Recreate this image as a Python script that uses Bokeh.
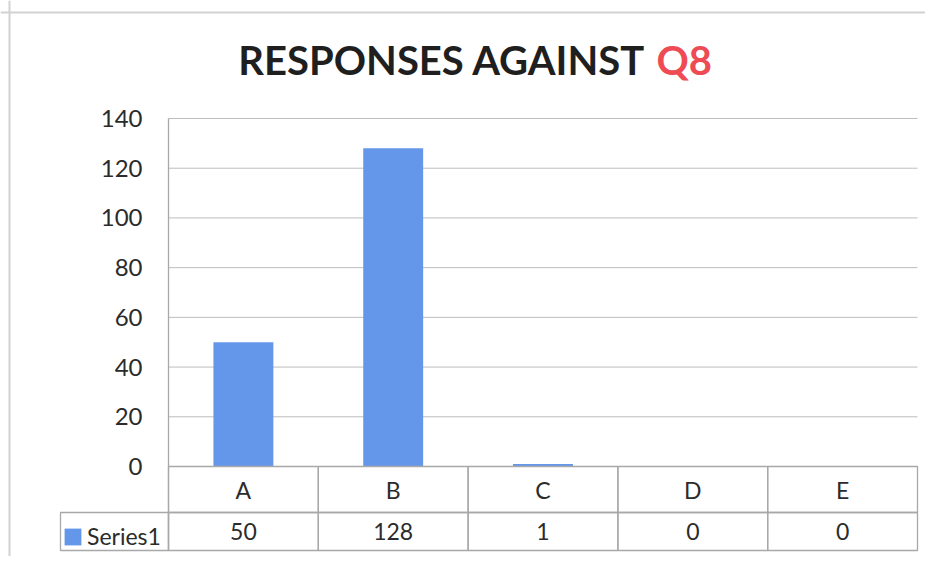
from bokeh.plotting import figure
from bokeh.models import Range1d, Label, ColumnDataSource, Span, Legend, LegendItem
from bokeh.embed import file_html
from bokeh.resources import INLINE
from bokeh.core.properties import value

# ---- data ----
categories = ["A", "B", "C", "D", "E"]
series_name = "Series1"
values = [50, 128, 1, 0, 0]
y_ticks = [0, 20, 40, 60, 80, 100, 120, 140]
title_main = "RESPONSES AGAINST"
title_q = "Q8"

BAR = "#6497E9"
GRID = "#bdbdbd"
LINE = "#a8a8a8"
TXT = "#2b2b2b"
FONT = "Lato"

n = len(categories)
xpos = [i + 0.5 for i in range(n)]

# scale: one category = 149.8 px, 20 units = 49.7 px
PX_X = 149.8
PX_Y = 348 / 140.0
W, H = 925, 556
ORG_X, ORG_Y = 0, 0   # page position of the figure's top-left corner

# frame = whole figure
x0 = (ORG_X - 168) / PX_X
x1 = x0 + W / PX_X
y1 = (466 - ORG_Y) / PX_Y
y0 = y1 - H / PX_Y

p = figure(width=W, height=H, output_backend="svg", toolbar_location=None,
           x_range=Range1d(x0, x1), y_range=Range1d(y0, y1),
           min_border=0, x_axis_location=None, y_axis_location=None)
p.outline_line_color = None
p.xgrid.visible = False
p.ygrid.visible = False

# horizontal gridlines across the plot area
p.segment(x0=[0] * len(y_ticks), x1=[n] * len(y_ticks), y0=y_ticks, y1=y_ticks,
          line_color=GRID, line_width=1)

# bars
src = ColumnDataSource(dict(x=xpos, top=values))
bars = p.vbar(x="x", top="top", bottom=0, width=0.4, source=src, fill_color=BAR, line_color=None)

# y tick labels
p.text(x=[-26 / PX_X] * len(y_ticks), y=y_ticks, text=[str(t) for t in y_ticks],
       text_align="right", text_baseline="middle", text_font=value(FONT),
       text_font_size="24px", text_color=TXT)

# data table below the plot area
hdr_h = 46 / PX_Y
row_h = 38 / PX_Y
leg_w = 108 / PX_X
p.quad(left=list(range(n)), right=[i + 1 for i in range(n)], bottom=-hdr_h, top=0,
       fill_color=None, line_color=LINE, line_width=1.3)
p.quad(left=[-leg_w] + list(range(n)), right=[0] + [i + 1 for i in range(n)],
       bottom=-hdr_h - row_h, top=-hdr_h, fill_color=None, line_color=LINE, line_width=1.3)
# value axis line (continues the table's column line)
p.segment(x0=[0], x1=[0], y0=[-hdr_h - row_h], y1=[max(y_ticks)], line_color=LINE, line_width=1.3)

p.text(x=xpos, y=[-hdr_h / 2] * n, text=categories, text_align="center", text_baseline="middle",
       text_font=value(FONT), text_font_size="23px", text_color=TXT)
p.text(x=xpos, y=[-hdr_h - row_h / 2] * n, text=[str(v) for v in values], text_align="center",
       text_baseline="middle", text_font=value(FONT), text_font_size="23px", text_color=TXT)

legend = Legend(items=[LegendItem(label=series_name, renderers=[bars])],
                location=(62 - ORG_X, 556 - 550), orientation="vertical",
                glyph_width=21, glyph_height=21, label_standoff=4, padding=0, margin=0,
                spacing=0, border_line_color=None, background_fill_alpha=0,
                label_text_font=FONT, label_text_font_size="23px", label_text_color=TXT)
p.add_layout(legend)

# title
ty = (466 - 59) / PX_Y
p.add_layout(Label(x=(645 - 168) / PX_X, y=ty, text=title_main, text_align="right",
                   text_baseline="middle", text_font=FONT, text_font_style="bold",
                   text_font_size="40px", text_color="#1f1f1f"))
p.add_layout(Label(x=(656 - 168) / PX_X, y=ty, text=title_q, text_align="left",
                   text_baseline="middle", text_font=FONT, text_font_style="bold",
                   text_font_size="40px", text_color="#ee4b55"))

# faint outer chart border (left and top)
p.add_layout(Span(location=(9 - 168) / PX_X, dimension="height", line_color="#d2d2d2", line_width=2))
p.add_layout(Span(location=(466 - 12) / PX_Y, dimension="width", line_color="#d2d2d2", line_width=2))

open("out.html", "w").write(file_html(p, INLINE))
